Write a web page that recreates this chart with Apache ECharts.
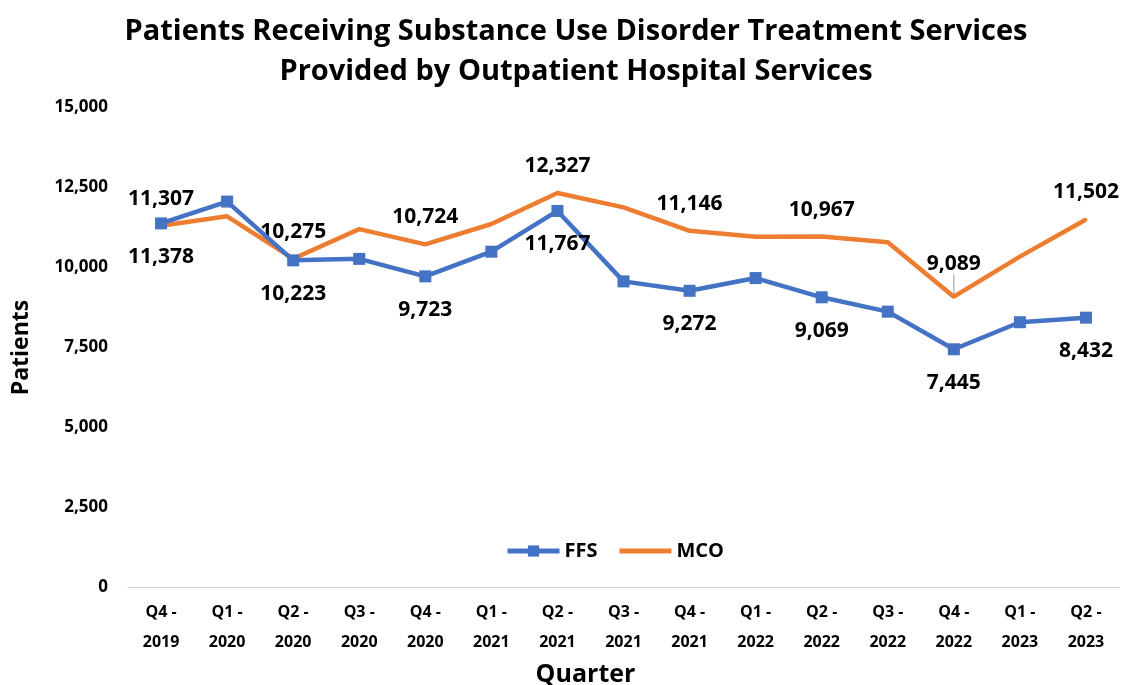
<!DOCTYPE html>
<html><head><meta charset="utf-8">
<script src="https://cdn.jsdelivr.net/npm/echarts@6/dist/echarts.min.js"></script>
<style>html,body{margin:0;padding:0;background:#fff}#c{width:1127px;height:685px}</style>
</head><body><div id="c"></div>
<script>
const categories = ["Q4 -\n2019","Q1 -\n2020","Q2 -\n2020","Q3 -\n2020","Q4 -\n2020","Q1 -\n2021","Q2 -\n2021","Q3 -\n2021","Q4 -\n2021","Q1 -\n2022","Q2 -\n2022","Q3 -\n2022","Q4 -\n2022","Q1 -\n2023","Q2 -\n2023"];
const ffs = [11378, 12060, 10223, 10270, 9723, 10494, 11767, 9566, 9272, 9670, 9069, 8620, 7445, 8290, 8432];
const mco = [11307, 11600, 10275, 11200, 10724, 11360, 12327, 11880, 11146, 10960, 10967, 10790, 9089, 10340, 11502];
const labelShown = [true,false,true,false,true,false,true,false,true,false,true,false,true,false,true];
const leaderIndex = 12;

const font = "'Open Sans', 'Noto Sans', sans-serif";
const chart = echarts.init(document.getElementById('c'));
function lbl() {
  return function (p) { return labelShown[p.dataIndex] ? echarts.format.addCommas(p.value) : ''; };
}
const mcoData = mco.map((v, i) => i === leaderIndex
  ? { value: v, labelLine: { show: true, lineStyle: { color: '#999', width: 1 } } }
  : v);
chart.setOption({
  animation: false,
  title: {
    text: 'Patients Receiving Substance Use Disorder Treatment Services\nProvided by Outpatient Hospital Services',
    left: 571, top: 7, textAlign: 'center',
    textStyle: { fontFamily: font, fontWeight: 'bold', fontSize: 29, lineHeight: 40, color: '#000' }
  },
  legend: {
    data: [{ name: 'FFS' }, { name: 'MCO', icon: 'path://M0,0H52V5H0Z' }],
    top: 536, left: 500,
    itemWidth: 52, itemHeight: 14, itemGap: 22,
    lineStyle: { width: 5 },
    textStyle: { fontFamily: font, fontWeight: 'bold', fontSize: 20, color: '#000' }
  },
  grid: { left: 128, right: 8, top: 107.5, bottom: 97.5, containLabel: false, outerBoundsMode: 'none' },
  xAxis: {
    type: 'category', data: categories, boundaryGap: true,
    name: 'Quarter', nameLocation: 'middle', nameGap: 70,
    nameTextStyle: { fontFamily: font, fontWeight: 'bold', fontSize: 25, color: '#000', padding: [0, 76, 0, 0] },
    axisLine: { lineStyle: { color: '#d0d0d0', width: 1 } },
    axisTick: { show: false },
    axisLabel: { fontFamily: font, fontWeight: 'bold', fontSize: 16, lineHeight: 30, color: '#000', margin: 10, interval: 0 }
  },
  yAxis: {
    type: 'value', min: 0, max: 15000, interval: 2500,
    name: 'Patients', nameLocation: 'middle', nameGap: 95, nameRotate: 90,
    nameTextStyle: { fontFamily: font, fontWeight: 'bold', fontSize: 23, color: '#000' },
    splitLine: { show: false }, axisLine: { show: false }, axisTick: { show: false },
    axisLabel: { fontFamily: font, fontWeight: 'bold', fontSize: 17, color: '#000', margin: 20,
      formatter: v => echarts.format.addCommas(v) }
  },
  series: [
    { name: 'FFS', type: 'line', data: ffs, symbol: 'rect', symbolSize: 12,
      itemStyle: { color: '#4472C4' }, lineStyle: { color: '#4472C4', width: 4.5 },
      label: { show: true, position: 'bottom', distance: 17, formatter: lbl(),
        fontFamily: font, fontWeight: 'bold', fontSize: 21, color: '#000' },
      z: 3 },
    { name: 'MCO', type: 'line', data: mcoData, symbol: 'circle', symbolSize: 3, showSymbol: true,
      itemStyle: { color: '#ED7D31' }, lineStyle: { color: '#ED7D31', width: 4.5 },
      label: { show: true, position: 'top', distance: 15, formatter: lbl(),
        fontFamily: font, fontWeight: 'bold', fontSize: 21, color: '#000' },
      labelLayout: function (p) { return p.dataIndex === leaderIndex ? { dy: -6 } : {}; },
      z: 2 }
  ]
});
</script></body></html>
